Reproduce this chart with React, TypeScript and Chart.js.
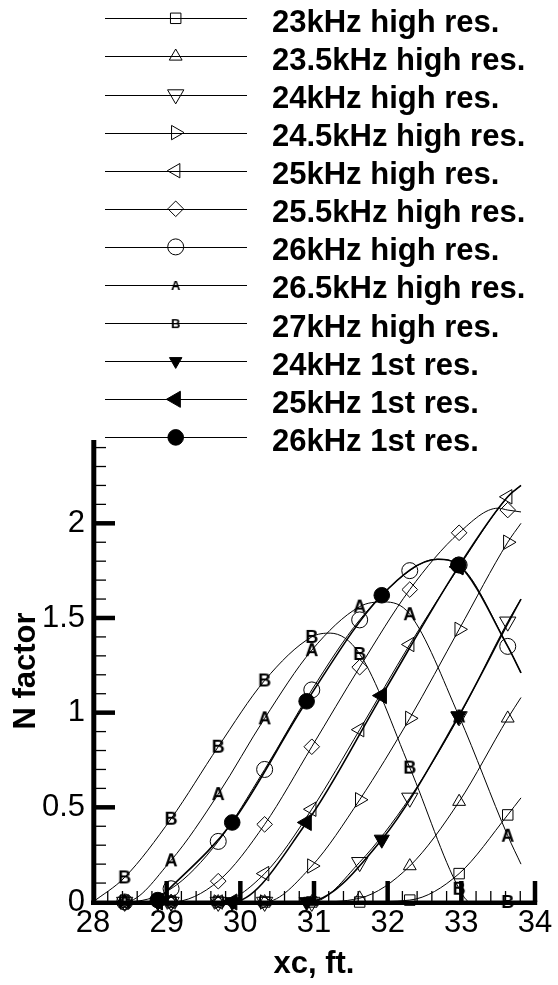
import React, { useEffect, useRef } from 'react';
import { Chart, registerables } from 'chart.js';
import { drawPoint } from 'chart.js/helpers';

Chart.register(...registerables);

const FONT = "'Liberation Sans', Arial, Helvetica, sans-serif";

// Stations (xc, ft.) where the high-resolution runs carry a symbol
const xcHigh = [28.43, 29.06, 29.7, 30.33, 30.97, 31.62, 32.3, 32.97, 33.63];
// Stations where the first-resolution runs carry a symbol
const xcFirst = [28.88, 29.89, 30.9, 31.92, 32.96];

// N factor at the symbol stations
const n23High = [0, 0, 0, 0, 0, 0, 0.01, 0.15, 0.46];
const n23_5High = [0, 0, 0, 0, 0, 0.02, 0.19, 0.53, 0.97];
const n24High = [0, 0, 0, 0, 0, 0.21, 0.55, 0.98, 1.48];
const n24_5High = [0, 0, 0, 0, 0.19, 0.54, 0.97, 1.44, 1.9];
const n25High = [0, 0, 0, 0.15, 0.49, 0.91, 1.36, 1.77, 2.14];
const n25_5High = [0, 0, 0.11, 0.41, 0.82, 1.24, 1.65, 1.95, 2.07];
const n26High = [0, 0.07, 0.32, 0.7, 1.12, 1.49, 1.75, 1.78, 1.35];
const n26_5High = [0, 0.22, 0.57, 0.97, 1.33, 1.56, 1.52, 0.98, 0.35];
const n27High = [0.13, 0.44, 0.82, 1.17, 1.4, 1.31, 0.71, 0.07, 0];

const n24First = [0, 0, 0, 0.33, 0.98];
const n25First = [0, 0, 0.42, 1.09, 1.77];
const n26First = [0.01, 0.42, 1.06, 1.62, 1.78];

// Extra points along each curve that carry no symbol (start, crest, end)
const n23Trace = [[28.0, 0], [33.81, 0.55]];
const n23_5Trace = [[28.0, 0], [33.81, 1.08]];
const n24Trace = [[28.0, 0], [33.81, 1.6]];
const n24_5Trace = [[28.0, 0], [33.81, 2.0]];
const n25Trace = [[28.0, 0], [33.81, 2.2]];
const n25_5Trace = [[28.0, 0], [33.5, 2.08], [33.81, 2.06]];
const n26Trace = [[28.0, 0], [32.66, 1.81], [33.81, 1.21]];
const n26_5Trace = [[28.0, 0], [31.95, 1.585], [33.81, 0.2]];
const n27Trace = [[28.0, 0], [31.22, 1.42], [33.12, 0], [33.81, 0]];

const n24FirstTrace = [[33.63, 1.47], [33.81, 1.6]];
const n25FirstTrace = [[33.63, 2.14], [33.81, 2.2]];
const n26FirstTrace = [[32.68, 1.81], [33.63, 1.35], [33.81, 1.21]];

type Pt = { x: number; y: number; m: boolean };

function buildPoints(xs: number[], ys: number[], trace: number[][]): Pt[] {
  const pts: Pt[] = xs.map((x, i) => ({ x, y: ys[i], m: true }));
  trace.forEach(([x, y]) => pts.push({ x, y, m: false }));
  return pts.sort((a, b) => a.x - b.x);
}

function letterMark(ch: string, size: number): HTMLCanvasElement {
  const s = 2 * Math.ceil(size * 0.65);
  const c = document.createElement('canvas');
  c.width = s;
  c.height = s;
  const g = c.getContext('2d') as CanvasRenderingContext2D;
  g.font = `bold ${size}px ${FONT}`;
  g.fillStyle = '#000';
  g.textAlign = 'center';
  g.textBaseline = 'alphabetic';
  g.fillText(ch, s / 2, s / 2 + (size * 0.716) / 2);
  return c;
}

type Series = {
  label: string;
  xs: number[];
  ys: number[];
  trace: number[][];
  style: any;
  legendStyle?: any;
  rot: number;
  r: number;
  legendR?: number;
  filled: boolean;
  width: number;
  first: boolean;
};

export default function App() {
  const ref = useRef<HTMLCanvasElement | null>(null);

  useEffect(() => {
    document.body.style.margin = '0';
    const markA = letterMark('A', 18);
    const markB = letterMark('B', 18);
    const keyA = letterMark('A', 13);
    const keyB = letterMark('B', 13);

    const series: Series[] = [
      { label: '23kHz high res.', xs: xcHigh, ys: n23High, trace: n23Trace, style: 'rect', rot: 0, r: 7.4, filled: false, width: 1, first: false },
      { label: '23.5kHz high res.', xs: xcHigh, ys: n23_5High, trace: n23_5Trace, style: 'triangle', rot: 0, r: 7.4, filled: false, width: 1, first: false },
      { label: '24kHz high res.', xs: xcHigh, ys: n24High, trace: n24Trace, style: 'triangle', rot: 180, r: 9.4, filled: false, width: 1, first: false },
      { label: '24.5kHz high res.', xs: xcHigh, ys: n24_5High, trace: n24_5Trace, style: 'triangle', rot: 90, r: 8.3, filled: false, width: 1, first: false },
      { label: '25kHz high res.', xs: xcHigh, ys: n25High, trace: n25Trace, style: 'triangle', rot: 270, r: 8.3, filled: false, width: 1, first: false },
      { label: '25.5kHz high res.', xs: xcHigh, ys: n25_5High, trace: n25_5Trace, style: 'rectRot', rot: 0, r: 7.8, filled: false, width: 1, first: false },
      { label: '26kHz high res.', xs: xcHigh, ys: n26High, trace: n26Trace, style: 'circle', rot: 0, r: 8, filled: false, width: 1, first: false },
      { label: '26.5kHz high res.', xs: xcHigh, ys: n26_5High, trace: n26_5Trace, style: markA, legendStyle: keyA, rot: 0, r: 6, filled: false, width: 1, first: false },
      { label: '27kHz high res.', xs: xcHigh, ys: n27High, trace: n27Trace, style: markB, legendStyle: keyB, rot: 0, r: 6, filled: false, width: 1, first: false },
      { label: '24kHz 1st res.', xs: xcFirst, ys: n24First, trace: n24FirstTrace, style: 'triangle', rot: 180, r: 8.7, legendR: 7.2, filled: true, width: 1.6, first: true },
      { label: '25kHz 1st res.', xs: xcFirst, ys: n25First, trace: n25FirstTrace, style: 'triangle', rot: 270, r: 9.3, filled: true, width: 1.6, first: true },
      { label: '26kHz 1st res.', xs: xcFirst, ys: n26First, trace: n26FirstTrace, style: 'circle', rot: 0, r: 7.8, filled: true, width: 1.6, first: true },
    ];

    const datasets = series.map((s) => ({
      label: s.label,
      data: buildPoints(s.xs, s.ys, s.trace),
      borderColor: '#000',
      borderWidth: s.width,
      cubicInterpolationMode: 'monotone' as const,
      pointStyle: s.style,
      pointRotation: s.rot,
      pointRadius: (c: any) => (c.raw && c.raw.m ? s.r : 0),
      pointBackgroundColor: s.filled ? '#000' : 'rgba(0,0,0,0)',
      pointBorderColor: '#000',
      pointBorderWidth: 1,
      clip: false as const,
      order: s.first ? -1 : 0,
    }));

    // Axis lines with inward major and minor ticks
    const framePlugin = {
      id: 'frame',
      beforeDatasetsDraw(chart: any) {
        const { ctx, chartArea: a, scales } = chart;
        const xs = scales.x;
        const ys = scales.y;
        ctx.save();
        ctx.strokeStyle = '#000';
        ctx.lineCap = 'butt';
        for (let k = 1; k <= 24; k++) {
          const py = ys.getPixelForValue(k / 10);
          const major = k % 5 === 0;
          ctx.lineWidth = major ? 4.5 : 1.3;
          ctx.beginPath();
          ctx.moveTo(a.left, py);
          ctx.lineTo(a.left + (major ? 22 : 13), py);
          ctx.stroke();
        }
        for (let k = 1; k <= 30; k++) {
          const px = xs.getPixelForValue(28 + k * 0.2);
          const major = k % 5 === 0;
          ctx.lineWidth = major ? 4.5 : 1.3;
          ctx.beginPath();
          ctx.moveTo(px, a.bottom);
          ctx.lineTo(px, a.bottom - (major ? 21 : 11));
          ctx.stroke();
        }
        ctx.lineWidth = 5;
        ctx.beginPath();
        ctx.moveTo(a.left + 0.8, a.top);
        ctx.lineTo(a.left + 0.8, a.bottom + 3);
        ctx.stroke();
        ctx.lineWidth = 4.5;
        ctx.beginPath();
        ctx.moveTo(a.left - 2, a.bottom + 0.8);
        ctx.lineTo(a.right + 2.2, a.bottom + 0.8);
        ctx.stroke();
        ctx.restore();
      },
    };

    // Key stacked above the plot: line, symbol, label
    const keyPlugin = {
      id: 'key',
      afterDraw(chart: any) {
        const ctx = chart.ctx;
        ctx.save();
        series.forEach((s, i) => {
          const y = 18.3 + 38.1 * i;
          const ly = Math.round(y) + 0.5;
          ctx.strokeStyle = '#000';
          ctx.lineWidth = 1;
          ctx.beginPath();
          ctx.moveTo(105, ly);
          ctx.lineTo(247, ly);
          ctx.stroke();
          ctx.fillStyle = s.filled ? '#000' : 'rgba(0,0,0,0)';
          drawPoint(
            ctx,
            {
              pointStyle: s.legendStyle ?? s.style,
              rotation: s.rot,
              radius: s.legendR ?? s.r,
              borderWidth: 1,
            } as any,
            175.7,
            y
          );
          ctx.fillStyle = '#000';
          ctx.font = `bold 31px ${FONT}`;
          ctx.textAlign = 'left';
          ctx.textBaseline = 'alphabetic';
          ctx.fillText(s.label, 272, y + 13.4);
        });
        ctx.restore();
      },
    };

    const chart = new Chart(ref.current as HTMLCanvasElement, {
      type: 'line',
      data: { datasets: datasets as any },
      options: {
        animation: false,
        responsive: false,
        events: [],
        layout: { padding: { top: 440, right: 23, bottom: 0, left: 0 } },
        plugins: {
          legend: { display: false },
          tooltip: { enabled: false },
        },
        scales: {
          x: {
            type: 'linear',
            min: 28,
            max: 34,
            afterFit: (s: any) => {
              s.height = 83;
            },
            grid: { display: false, drawTicks: false },
            border: { display: false },
            ticks: {
              stepSize: 1,
              padding: 3,
              autoSkip: false,
              includeBounds: false,
              maxRotation: 0,
              color: '#000',
              font: { size: 31, family: FONT },
              callback: (v: any) => String(v),
            },
            title: {
              display: true,
              text: 'xc, ft.',
              color: '#000',
              font: { size: 31, weight: 'bold', family: FONT },
              padding: { top: 0, bottom: 2 },
            },
          },
          y: {
            type: 'linear',
            min: 0,
            max: 2.44,
            afterFit: (s: any) => {
              s.width = 93;
            },
            grid: { display: false, drawTicks: false },
            border: { display: false },
            ticks: {
              stepSize: 0.5,
              padding: 8,
              autoSkip: false,
              includeBounds: false,
              color: '#000',
              font: { size: 31, family: FONT },
              callback: (v: any) => String(v),
            },
            title: {
              display: true,
              text: 'N factor',
              color: '#000',
              font: { size: 31, weight: 'bold', family: FONT },
              padding: { top: 8, bottom: 0 },
            },
          },
        },
      } as any,
      plugins: [framePlugin, keyPlugin],
    });

    return () => chart.destroy();
  }, []);

  return (
    <div style={{ position: 'fixed', left: 0, top: 0, width: 558, height: 985, background: '#fff' }}>
      <canvas ref={ref} width={558} height={985} style={{ display: 'block', width: 558, height: 985 }} />
    </div>
  );
}
